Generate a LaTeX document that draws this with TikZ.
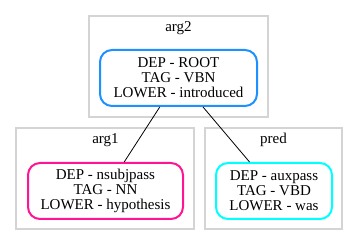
\documentclass[tikz,border=0pt]{standalone}
\usepackage{fontspec}
\setmainfont{Liberation Serif}
\begin{document}
\begin{tikzpicture}[x=1pt,y=-1pt,
  cluster/.style={draw=black!17,line width=1.3pt},
  clabel/.style={anchor=base,inner sep=0pt,font=\fontsize{15}{15}\selectfont},
  tok/.style={rectangle,rounded corners=12pt,line width=2pt,align=center,
    inner sep=0pt,minimum height=56pt,font=\fontsize{15}{15}\selectfont},
  dep/.style={draw=black,line width=0.8pt}]
\useasboundingbox (0,0) rectangle (357,245);
\fill[white] (0,0) rectangle (357,245);
% clusters
\draw[cluster] (89,16) rectangle (268,117);
\draw[cluster] (16,128) rectangle (194,229);
\draw[cluster] (205,128) rectangle (342,229);
\node[clabel] (larg2) at (178.5,32) {arg2};
\node[clabel] (larg1) at (105.5,144) {arg1};
\node[clabel] (lpred) at (273.5,144) {pred};
% tokens
\node[tok,draw={rgb,255:red,30;green,144;blue,255},minimum width=157pt] (root) at (178.5,78)
  {DEP - ROOT\\TAG - VBN\\LOWER - introduced};
\node[tok,draw={rgb,255:red,255;green,20;blue,147},minimum width=155pt] (subj) at (105.5,191)
  {DEP - nsubjpass\\TAG - NN\\LOWER - hypothesis};
\node[tok,draw={rgb,255:red,0;green,255;blue,255},minimum width=116pt] (aux) at (274,191)
  {DEP - auxpass\\TAG - VBD\\LOWER - was};
% dependencies
\draw[dep] (root) -- (subj);
\draw[dep] (root) -- (aux);
\end{tikzpicture}
\end{document}
